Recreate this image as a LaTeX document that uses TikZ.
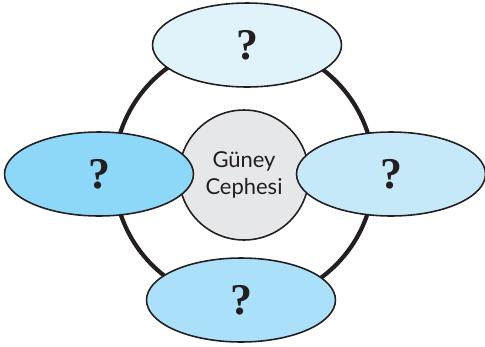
\documentclass[tikz,border=0pt]{standalone}
\usepackage{fontspec}
\setmainfont{Lato}
\newfontfamily\askfont{Liberation Serif}
\usetikzlibrary{shapes.geometric}

\definecolor{topblue}{HTML}{E0F3FB}
\definecolor{leftblue}{HTML}{8DD8F8}
\definecolor{rightblue}{HTML}{C6E9F9}
\definecolor{bottomblue}{HTML}{ABE0FA}
\definecolor{centregray}{HTML}{E6E7E8}
\definecolor{inkblack}{HTML}{231F20}

\begin{document}
\begin{tikzpicture}[x=0.02cm,y=-0.02cm]
\tikzstyle{every node}+=[inner sep=0pt]
\tikzstyle{facet}=[ellipse,draw=inkblack,line width=0.9pt,minimum width=3.78cm,minimum height=1.68cm,text=inkblack,font=\askfont\fontsize{25}{26}\selectfont\bfseries]
\useasboundingbox (0,0) rectangle (485,346);
% outer ring
\draw [inkblack,line width=2.4pt] (244,173) circle (130);
% centre
\node [circle,draw=inkblack,line width=0.9pt,fill=centregray,minimum size=2.6cm,align=center,font=\fontsize{12.5}{15}\selectfont,text=inkblack] (centre) at (244,175) {G\"uney\\Cephesi};
% the four sides
\node [facet,fill=topblue] (top) at (247,45) {?};
\node [facet,fill=leftblue] (left) at (99,174) {?};
\node [facet,fill=rightblue] (right) at (391,174) {?};
\node [facet,fill=bottomblue] (bottom) at (241,300) {?};
\end{tikzpicture}
\end{document}
